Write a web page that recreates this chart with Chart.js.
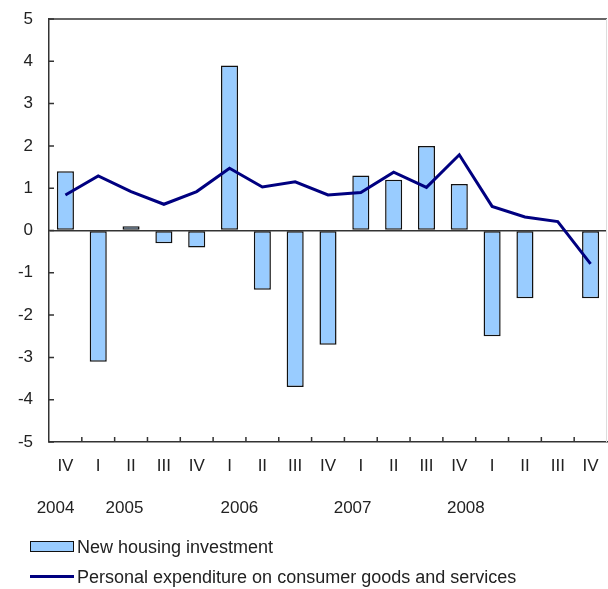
<!DOCTYPE html>
<html>
<head>
<meta charset="utf-8">
<script src="https://cdn.jsdelivr.net/npm/chart.js@4/dist/chart.umd.min.js"></script>
<style>
  html, body { margin: 0; padding: 0; background: #fff; }
  #wrap { position: relative; width: 608px; height: 589px; overflow: hidden; }
  #legend { position: absolute; left: 30px; top: 534px; font-family: "Liberation Sans", Arial, sans-serif; font-size: 18px; color: #222; }
  #legend .row { height: 30px; line-height: 26px; white-space: nowrap; }
  #legend .sw { display: inline-block; width: 44px; vertical-align: middle; margin-right: 3px; position: relative; top: -2px; }
  #legend .sw.box { height: 9px; background: #99ccff; border: 1px solid #111; width: 42px; }
  #legend .sw.line { height: 3px; background: #000080; }
</style>
</head>
<body>
<div id="wrap">
  <canvas id="chart" width="608" height="589"></canvas>
  <div id="legend"></div>
</div>
<script>
const quarters = ["IV", "I", "II", "III", "IV", "I", "II", "III", "IV", "I", "II", "III", "IV", "I", "II", "III", "IV"];
const years = ["2004", "2005", "2006", "2007", "2008"];
const housing = [1.4, -3.1, 0.1, -0.3, -0.4, 3.9, -1.4, -3.7, -2.7, 1.3, 1.2, 2.0, 1.1, -2.5, -1.6, 0, -1.6];
const consumption = [0.84, 1.29, 0.92, 0.62, 0.92, 1.47, 1.03, 1.15, 0.84, 0.9, 1.38, 1.02, 1.79, 0.57, 0.32, 0.21, -0.79];

const FONT = "'Liberation Sans', Arial, sans-serif";
const AXIS = "#333";

// where the year labels sit, as fractional category index
const yearAt = [-0.3, 1.8, 5.3, 8.75, 12.2];

const axisExtras = {
  id: "axisExtras",
  afterDatasetsDraw(chart) {
    const ctx = chart.ctx;
    const a = chart.chartArea;
    const x = chart.scales.x, y = chart.scales.y;
    ctx.save();
    // top border dark, right border light
    ctx.strokeStyle = AXIS;
    ctx.lineWidth = 1.5;
    ctx.beginPath();
    ctx.moveTo(a.left, a.top);
    ctx.lineTo(a.right, a.top);
    ctx.stroke();
    ctx.strokeStyle = "#ddd";
    ctx.lineWidth = 1;
    ctx.beginPath();
    ctx.moveTo(a.right - 0.5, a.top);
    ctx.lineTo(a.right - 0.5, a.bottom);
    ctx.stroke();
    // inward tick marks
    ctx.strokeStyle = AXIS;
    ctx.lineWidth = 1.5;
    ctx.beginPath();
    y.ticks.forEach((t, i) => {
      const py = y.getPixelForTick(i);
      ctx.moveTo(a.left, py);
      ctx.lineTo(a.left + 5, py);
    });
    for (let i = 1; i < quarters.length; i++) {
      const px = (x.getPixelForTick(i - 1) + x.getPixelForTick(i)) / 2;
      ctx.moveTo(px, a.bottom);
      ctx.lineTo(px, a.bottom - 5);
    }
    ctx.stroke();
    // year labels
    ctx.fillStyle = "#222";
    ctx.font = "17px " + FONT;
    ctx.textAlign = "center";
    ctx.textBaseline = "middle";
    years.forEach((yr, i) => {
      ctx.fillText(yr, x.getPixelForValue(yearAt[i]), 508);
    });
    ctx.restore();
  }
};

const chart = new Chart(document.getElementById("chart"), {
  data: {
    labels: quarters,
    datasets: [
      {
        type: "line",
        label: "Personal expenditure on consumer goods and services",
        data: consumption,
        borderColor: "#000080",
        backgroundColor: "#000080",
        borderWidth: 3,
        pointRadius: 0,
        tension: 0,
        order: 0
      },
      {
        type: "bar",
        label: "New housing investment",
        data: housing,
        backgroundColor: "#99ccff",
        borderColor: "#111",
        borderWidth: 1.5,
        borderSkipped: false,
        barPercentage: 0.52,
        categoryPercentage: 1,
        order: 1
      }
    ]
  },
  options: {
    responsive: false,
    animation: false,
    layout: { padding: { top: 0, right: 1, left: 0, bottom: 0 } },
    plugins: {
      legend: { display: false },
      tooltip: { enabled: false }
    },
    scales: {
      x: {
        offset: true,
        grid: { display: false },
        border: { display: true, color: AXIS, width: 1.5 },
        ticks: {
          color: "#222",
          font: { family: FONT, size: 17 },
          padding: 6,
          autoSkip: false,
          maxRotation: 0
        },
        afterFit(scale) { scale.height = 147; }
      },
      y: {
        min: -5,
        max: 5,
        grid: {
          drawTicks: false,
          color: (c) => (c.tick && c.tick.value === 0 ? AXIS : "rgba(0,0,0,0)"),
          lineWidth: 1.5
        },
        border: { display: true, color: AXIS, width: 1.5 },
        ticks: {
          stepSize: 1,
          color: "#222",
          font: { family: FONT, size: 17 },
          padding: 16
        },
        afterFit(scale) { scale.width = 49; scale.paddingTop = 19; }
      }
    }
  },
  plugins: [axisExtras]
});

// legend under the chart, bars first
const legend = document.getElementById("legend");
[chart.data.datasets[1], chart.data.datasets[0]].forEach((ds) => {
  const row = document.createElement("div");
  row.className = "row";
  const sw = document.createElement("span");
  sw.className = "sw " + (ds.type === "bar" ? "box" : "line");
  row.appendChild(sw);
  row.appendChild(document.createTextNode(ds.label));
  legend.appendChild(row);
});
</script>
</body>
</html>
